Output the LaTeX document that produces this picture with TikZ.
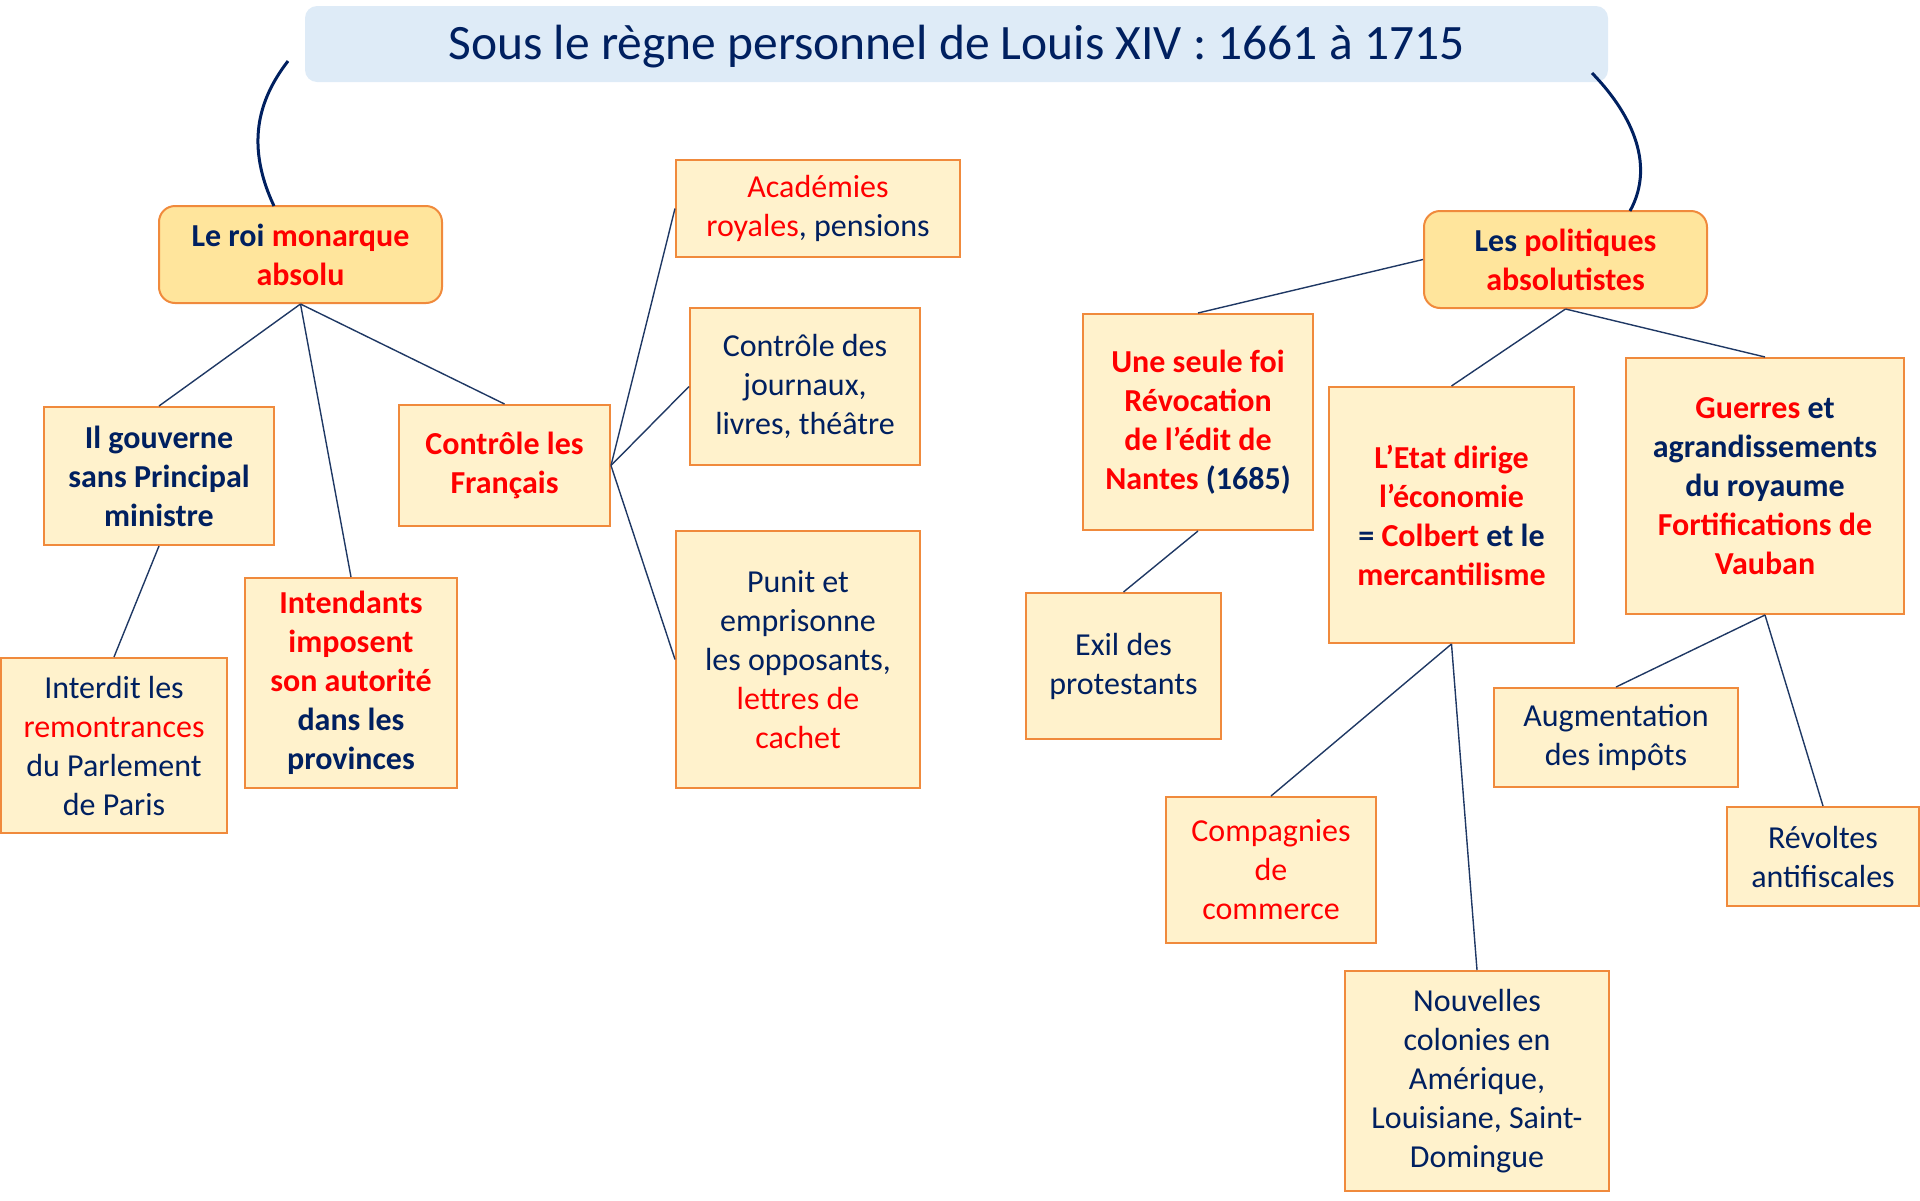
\documentclass[tikz,border=0pt]{standalone}
\usepackage{fontspec}
\setmainfont{Carlito}
\definecolor{navy}{HTML}{002060}
\definecolor{linec}{HTML}{1F3864}
\definecolor{rouge}{HTML}{FF0000}
\definecolor{boxfill}{HTML}{FFF2CC}
\definecolor{rfill}{HTML}{FFE59C}
\definecolor{boxline}{HTML}{F08A3C}
\definecolor{titlefill}{HTML}{DEEBF7}
\newcommand\R[1]{\textcolor{rouge}{#1}}
\tikzset{
  bx/.style={draw=boxline, fill=boxfill, line width=2pt, align=center, text=navy,
    inner sep=0pt, font=\fontsize{32}{39}\selectfont},
  bxb/.style={bx, font=\fontsize{32}{39}\selectfont\bfseries},
  rbx/.style={bxb, fill=rfill, rounded corners=16pt},
  conn/.style={draw=linec, line width=1.4pt},
  curv/.style={draw=navy, line width=3pt}
}
\begin{document}
\begin{tikzpicture}[x=1pt, y=-1pt]
\useasboundingbox (0,0) rectangle (1920,1200);
% title
\node[fill=titlefill, rounded corners=12pt, minimum width=1303pt, minimum height=76pt,
  inner sep=0pt, text=navy, text height=42pt, text depth=12pt,
  font=\fontsize{49.5}{56}\selectfont] (title) at (956.5,44)
  {Sous le règne personnel de Louis XIV : 1661 à 1715};
% left branch
\node[rbx, minimum width=283pt, minimum height=97pt] (roi) at (300.5,254.5)
  {Le roi \R{monarque}\\\R{absolu}};
\node[bxb, minimum width=230pt, minimum height=138pt] (gouv) at (159,476)
  {Il gouverne\\sans Principal\\ministre};
\node[bxb, minimum width=211pt, minimum height=121pt] (ctrl) at (504.5,465.5)
  {\R{Contrôle les}\\\R{Français}};
\node[bx, minimum width=284pt, minimum height=97pt] (acad) at (818,208.5)
  {\R{Académies}\\\R{royales}, pensions};
\node[bx, minimum width=230pt, minimum height=157pt] (journ) at (805,386.5)
  {Contrôle des\\journaux,\\livres, théâtre};
\node[bx, minimum width=244pt, minimum height=257pt] (punit) at (798,659.5)
  {Punit et\\emprisonne\\les opposants,\\\R{lettres de}\\\R{cachet}};
\node[bx, minimum width=226pt, minimum height=175pt] (interd) at (114,745.5)
  {Interdit les\\\R{remontrances}\\du Parlement\\de Paris};
\node[bxb, minimum width=212pt, minimum height=210pt] (intend) at (351,683)
  {\R{Intendants}\\\R{imposent}\\\R{son autorité}\\dans les\\provinces};
% right branch
\node[rbx, minimum width=283pt, minimum height=97pt] (pol) at (1565.5,259.5)
  {Les \R{politiques}\\\R{absolutistes}};
\node[bxb, minimum width=230pt, minimum height=216pt] (foi) at (1198,422)
  {\R{Une seule foi}\\\R{Révocation}\\\R{de l’édit de}\\\R{Nantes} (1685)};
\node[bxb, minimum width=245pt, minimum height=256pt] (etat) at (1451.5,515)
  {\R{L’Etat dirige}\\\R{l’économie}\\= \R{Colbert} et le\\\R{mercantilisme}};
\node[bxb, minimum width=278pt, minimum height=256pt] (guerres) at (1765,486)
  {\R{Guerres} et\\agrandissements\\du royaume\\\R{Fortifications de}\\\R{Vauban}};
\node[bx, minimum width=195pt, minimum height=146pt] (exil) at (1123.5,666)
  {Exil des\\protestants};
\node[bx, minimum width=210pt, minimum height=146pt] (comp) at (1271,870)
  {\R{Compagnies}\\\R{de}\\\R{commerce}};
\node[bx, minimum width=264pt, minimum height=220pt] (nouv) at (1477,1081)
  {Nouvelles\\colonies en\\Amérique,\\Louisiane, Saint-\\Domingue};
\node[bx, minimum width=244pt, minimum height=99pt] (augm) at (1616,737.5)
  {Augmentation\\des impôts};
\node[bx, minimum width=192pt, minimum height=99pt] (revol) at (1823,856.5)
  {Révoltes\\antifiscales};
% curves from title
\coordinate (c1s) at (288,61);
\coordinate (c1e) at (274,206);
\coordinate (c2s) at (1592,73);
\coordinate (c2e) at (1630,211);
\draw[curv] (c1s) .. controls (262,95) and (243,140) .. (c1e);
\draw[curv] (c2s) .. controls (1628,110) and (1657,162) .. (c2e);
% connectors
\draw[conn] (roi.south) -- (gouv.north);
\draw[conn] (roi.south) -- (intend.north);
\draw[conn] (roi.south) -- (ctrl.north);
\draw[conn] (gouv.south) -- (interd.north);
\draw[conn] (ctrl.east) -- (acad.west);
\draw[conn] (ctrl.east) -- (journ.west);
\draw[conn] (ctrl.east) -- (punit.west);
\draw[conn] (pol.west) -- (foi.north);
\draw[conn] (pol.south) -- (etat.north);
\draw[conn] (pol.south) -- (guerres.north);
\draw[conn] (foi.south) -- (exil.north);
\draw[conn] (etat.south) -- (comp.north);
\draw[conn] (etat.south) -- (nouv.north);
\draw[conn] (guerres.south) -- (augm.north);
\draw[conn] (guerres.south) -- (revol.north);
\end{tikzpicture}
\end{document}
